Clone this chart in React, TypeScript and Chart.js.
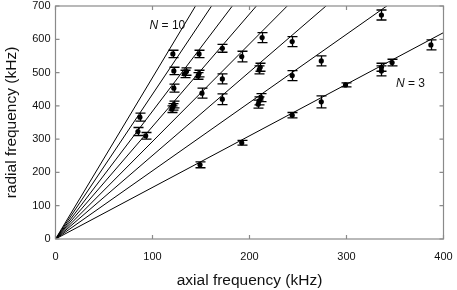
import React, { useEffect, useRef } from "react";
import { Chart, registerables } from "chart.js";

Chart.register(...registerables);

// Measured data: axial frequency (kHz), radial frequency (kHz), error (kHz)
const axialFreq = [121, 122, 133, 135, 148, 147, 148, 172, 172, 192, 122, 151, 172, 120, 121, 122, 87, 85, 93, 149, 192, 336, 213, 244, 210, 211, 244, 274, 209, 210, 212, 244, 274, 299, 336, 336, 347, 387];
const radialFreq = [556, 505, 496, 503, 556, 490, 497, 573, 481, 548, 453, 438, 420, 390, 397, 404, 366, 323, 310, 223, 289, 673, 605, 593, 508, 516, 491, 535, 405, 415, 425, 372, 412, 463, 505, 516, 530, 583];
const radialErr = [11, 11, 11, 11, 11, 10, 10, 12, 15, 16, 12, 15, 16, 10, 10, 10, 12, 12, 10, 9, 7, 15, 15, 15, 12, 12, 15, 15, 12, 12, 12, 8, 18, 6, 15, 12, 10, 15];

// Critical ratio lines for N = 3..10
const ionNumbers = [3, 4, 5, 6, 7, 8, 9, 10];
const lineSlopes = [1.55, 2.05, 2.51, 2.93, 3.38, 3.84, 4.35, 4.85];

const xTicks = [0, 100, 200, 300, 400];
const yTicks = [0, 100, 200, 300, 400, 500, 600, 700];

// Label anchors in data coordinates
const labelTexts = ["10", "3"];
const labelX = [97, 351];
const labelY = [640, 466];

const FONT = "'Liberation Sans', Arial, Helvetica, sans-serif";

const framePlugin = {
  id: "frame",
  afterDatasetsDraw(chart: any) {
    const { ctx, chartArea, scales } = chart;
    const xs = scales.x;
    const ys = scales.y;
    ctx.save();
    // error bars
    ctx.strokeStyle = "#000";
    ctx.lineWidth = 1.3;
    for (let i = 0; i < axialFreq.length; i++) {
      const px = Math.round(xs.getPixelForValue(axialFreq[i])) + 0.5;
      const pt = ys.getPixelForValue(radialFreq[i] + radialErr[i]);
      const pb = ys.getPixelForValue(radialFreq[i] - radialErr[i]);
      ctx.beginPath();
      ctx.moveTo(px, pt);
      ctx.lineTo(px, pb);
      ctx.moveTo(px - 5, pt);
      ctx.lineTo(px + 5, pt);
      ctx.moveTo(px - 5, pb);
      ctx.lineTo(px + 5, pb);
      ctx.stroke();
    }
    // frame
    ctx.strokeStyle = "#8a8a8a";
    ctx.lineWidth = 1.2;
    const l = chartArea.left, r = chartArea.right, t = chartArea.top, b = chartArea.bottom;
    ctx.strokeRect(l, t, r - l, b - t);
    ctx.beginPath();
    for (const v of xTicks) {
      const p = xs.getPixelForValue(v);
      ctx.moveTo(p, b);
      ctx.lineTo(p, b - 4);
      ctx.moveTo(p, t);
      ctx.lineTo(p, t + 4);
    }
    for (const v of yTicks) {
      const p = ys.getPixelForValue(v);
      ctx.moveTo(l, p);
      ctx.lineTo(l + 4, p);
      ctx.moveTo(r, p);
      ctx.lineTo(r - 4, p);
    }
    ctx.stroke();
    // N labels
    ctx.fillStyle = "#111";
    ctx.textBaseline = "middle";
    for (let i = 0; i < labelTexts.length; i++) {
      const x = xs.getPixelForValue(labelX[i]);
      const y = ys.getPixelForValue(labelY[i]);
      ctx.font = `italic 12px ${FONT}`;
      ctx.textAlign = "left";
      ctx.fillText("N", x, y);
      const w = ctx.measureText("N").width;
      ctx.font = `12px ${FONT}`;
      ctx.fillText(" = " + labelTexts[i], x + w, y);
    }
    ctx.restore();
  },
};

export default function App() {
  const ref = useRef<HTMLCanvasElement | null>(null);
  useEffect(() => {
    if (!ref.current) return;
    const lineSets = lineSlopes.map((s, i) => ({
      type: "line" as const,
      label: "N=" + ionNumbers[i],
      data: [
        { x: 0, y: 0 },
        { x: 400, y: 400 * s },
      ],
      borderColor: "#000",
      borderWidth: 1,
      pointRadius: 0,
      fill: false,
      tension: 0,
    }));
    const chart = new Chart(ref.current, {
      type: "scatter",
      data: {
        datasets: [
          ...lineSets,
          {
            type: "scatter" as const,
            label: "data",
            data: axialFreq.map((x, i) => ({ x, y: radialFreq[i] })),
            backgroundColor: "#000",
            borderColor: "#000",
            pointRadius: 2.6,
            borderWidth: 0,
          },
        ] as any,
      },
      options: {
        animation: false,
        responsive: false,
        devicePixelRatio: 1,
        layout: { padding: { top: 6, right: 13.5, left: 0, bottom: 0 } },
        plugins: {
          legend: { display: false },
          tooltip: { enabled: false },
        },
        scales: {
          x: {
            type: "linear",
            min: 0,
            max: 400,
            grid: { display: false, drawTicks: false },
            border: { display: false },
            afterBuildTicks: (s: any) => {
              s.ticks = xTicks.map((v) => ({ value: v }));
            },
            afterFit: (s: any) => {
              s.height = 51;
              s.paddingLeft = 0;
              s.paddingRight = 0;
            },
            ticks: {
              color: "#111",
              padding: 11,
              font: { family: FONT, size: 11 },
              maxRotation: 0,
            },
            title: {
              display: true,
              text: "axial frequency (kHz)",
              color: "#111",
              font: { family: FONT, size: 15.5 },
              padding: { top: 0, bottom: 0 },
            },
          },
          y: {
            type: "linear",
            min: 0,
            max: 700,
            grid: { display: false, drawTicks: false },
            border: { display: false },
            afterBuildTicks: (s: any) => {
              s.ticks = yTicks.map((v) => ({ value: v }));
            },
            afterFit: (s: any) => {
              s.width = 55.5;
              s.paddingTop = 0;
              s.paddingBottom = 0;
            },
            ticks: {
              color: "#111",
              padding: 5,
              font: { family: FONT, size: 11 },
            },
            title: {
              display: true,
              text: "radial frequency (kHz)",
              color: "#111",
              font: { family: FONT, size: 15.5 },
              padding: { top: 2, bottom: 0 },
            },
          },
        },
      },
      plugins: [framePlugin],
    });
    return () => chart.destroy();
  }, []);
  return (
    <div style={{ position: "fixed", left: 0, top: 0, width: 457, height: 290, background: "#fff" }}>
      <canvas ref={ref} width={457} height={290} style={{ width: 457, height: 290, display: "block" }} />
    </div>
  );
}
